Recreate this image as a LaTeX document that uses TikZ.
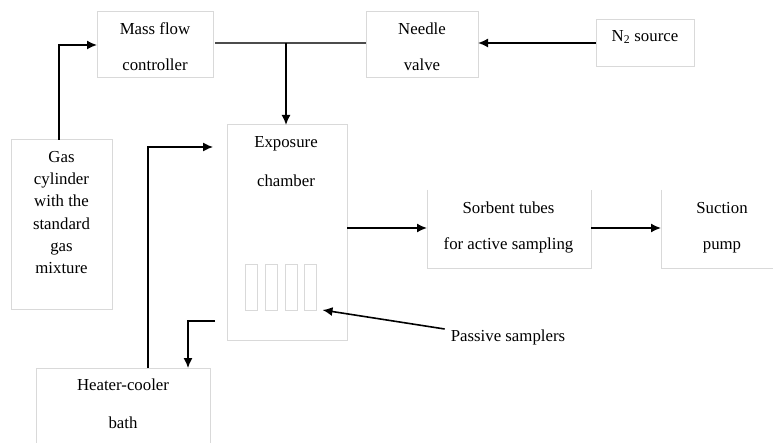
\documentclass[tikz,border=0pt]{standalone}
\usepackage{fontspec}
\setmainfont{Liberation Serif}
\usetikzlibrary{arrows.meta}
\definecolor{boxgray}{HTML}{D9D9D9}
\begin{document}
\begin{tikzpicture}[x=1pt,y=-1pt,
  box/.style={draw=boxgray, line width=1pt, inner sep=0pt, outer sep=0pt},
  openbox/.style={inner sep=0pt, outer sep=0pt},
  smp/.style={draw=boxgray, line width=0.9pt, inner sep=0pt, outer sep=0pt, minimum width=12pt, minimum height=46pt},
  txt/.style={font=\fontsize{16.8}{36}\selectfont, align=center, inner sep=0pt},
  arr/.style={line width=1.6pt, -{Latex[length=10pt,width=9pt]}},
  plain/.style={line width=1.6pt},
  greyline/.style={line width=1.1pt, draw=black!70}]
\useasboundingbox (0,0) rectangle (773,443);

% boxes
\node[box, minimum width=116pt, minimum height=66pt] (mfc) at (155,45) {};
\node[box, minimum width=112pt, minimum height=66pt] (nv) at (422,45) {};
\node[box, minimum width=98pt, minimum height=47pt] (n2) at (645,43.5) {};
\node[box, minimum width=101pt, minimum height=170pt] (gas) at (61.5,225) {};
\node[box, minimum width=120pt, minimum height=215pt] (exp) at (287,232.5) {};
\node[openbox, minimum width=164pt, minimum height=79pt] (sorb) at (509,229.5) {};
\draw[draw=boxgray, line width=1pt] (sorb.north west) -- (sorb.south west) -- (sorb.south east) -- (sorb.north east);
\node[openbox, minimum width=124pt, minimum height=79pt] (pump) at (723,229.5) {};
\draw[draw=boxgray, line width=1pt] (pump.north west) -- (pump.south west) -- (pump.south east);
\node[openbox, minimum width=174pt, minimum height=78pt] (heat) at (123,407) {};
\draw[draw=boxgray, line width=1pt] (heat.south west) -- (heat.north west) -- (heat.north east) -- (heat.south east);

% passive samplers
\node[smp] (s1) at (251,287) {};
\node[smp] (s2) at (271,287) {};
\node[smp] (s3) at (291.5,287) {};
\node[smp] (s4) at (310.5,287) {};

% texts
\node[txt] (mfct) at (155,47) {Mass flow\\controller};
\node[txt] (nvt) at (422,47) {Needle\\valve};
\node[txt] (n2t) at (645,37) {N\textsubscript{2} source};
\node[txt, font=\fontsize{16.8}{22.2}\selectfont] (gast) at (61.5,212.5) {Gas\\cylinder\\with the\\standard\\gas\\mixture};
\node[txt, font=\fontsize{16.8}{39}\selectfont] (expt) at (286,161.5) {Exposure\\chamber};
\node[txt] (sorbt) at (508.5,227) {Sorbent tubes\\for active sampling};
\node[txt] (pumpt) at (722,227.5) {Suction\\pump};
\node[txt, font=\fontsize{16.8}{38}\selectfont] (heatt) at (123,404) {Heater-cooler\\bath};
\node[txt] (pst) at (508,337) {Passive samplers};

% connectors
\coordinate (gtop) at (59,140);
\draw[arr] (gtop) |- (mfc.west);
\draw[greyline] ([xshift=2pt]mfc.east |- 0,43) -- (nv.west |- 0,43);
\coordinate (jn) at (286,43);
\draw[arr] (jn) -- (exp.north -| jn);
\draw[arr] (n2.west |- 0,43) -- (nv.east |- 0,43);
\draw[arr] (exp.east |- 0,228) -- (sorb.west |- 0,228);
\draw[arr] (sorb.east |- 0,228) -- (pump.west |- 0,228);
\coordinate (hs) at (148,368);
\coordinate (hin) at (213,147);
\draw[line width=1.3pt, -{Latex[length=10pt,width=9pt]}] (hs) |- (hin);
\coordinate (hr) at (215,321);
\draw[line width=1.3pt, -{Latex[length=10pt,width=9pt]}] (hr) -| ([xshift=65pt]heat.north);
\draw[arr] ([shift={(-6pt,8pt)}]pst.west) -- ([xshift=6pt]s4.south east);
\end{tikzpicture}
\end{document}
